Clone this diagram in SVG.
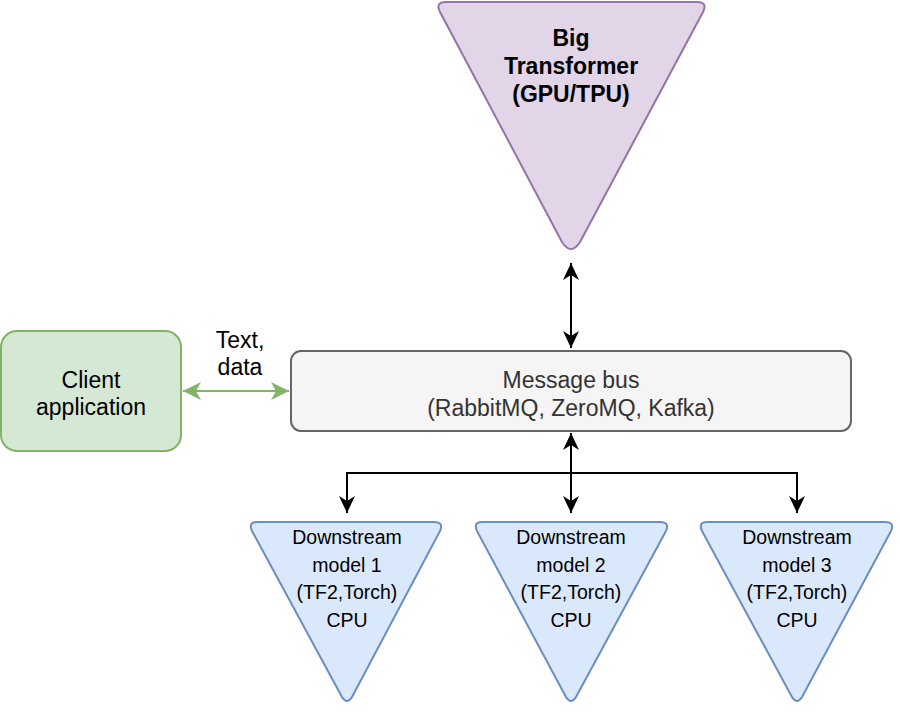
<svg xmlns="http://www.w3.org/2000/svg" width="900" height="722" viewBox="0 0 900 722">
<defs>
<style>
text{font-family:"Liberation Sans",Arial,Helvetica,sans-serif;text-anchor:middle;fill:#000}
.big{font-size:23px;font-weight:bold}
.bus{font-size:23px;fill:#333333}
.cl{font-size:23px}
.ds{font-size:19.5px}
.tri-ds{fill:#dae8fc;stroke:#6c8ebf;stroke-width:2;stroke-linejoin:round}
.edge{fill:none;stroke:#000;stroke-width:2}
</style>
<marker id="ah" markerUnits="userSpaceOnUse" viewBox="-19 -9 20 18" refX="0" refY="0" markerWidth="20" markerHeight="18" orient="auto-start-reverse">
<path d="M0,0 L-17,-8 L-12,0 L-17,8 Z" fill="#000"/>
</marker>
<marker id="ahg" markerUnits="userSpaceOnUse" viewBox="-20 -10 21 20" refX="0" refY="0" markerWidth="21" markerHeight="20" orient="auto-start-reverse">
<path d="M0,0 L-18,-9 L-13,0 L-18,9 Z" fill="#82b366"/>
</marker>
</defs>
<rect width="900" height="722" fill="#ffffff"/>
<g id="connectors">
<path class="edge" d="M571,263 V348" marker-start="url(#ah)" marker-end="url(#ah)"/>
<path class="edge" d="M571,433 V513" marker-start="url(#ah)" marker-end="url(#ah)"/>
<path class="edge" d="M571,473 H347 V513" marker-end="url(#ah)"/>
<path class="edge" d="M571,473 H797 V513" marker-end="url(#ah)"/>
<path d="M183,391 H289" fill="none" stroke="#82b366" stroke-width="2" marker-start="url(#ahg)" marker-end="url(#ahg)"/>
<text class="cl" x="240" y="348">Text,</text>
<text class="cl" x="240" y="375">data</text>
</g>
<g id="big-transformer">
<path d="M446,2 L697,2 Q708,2 703,12 L580,242 Q571,256 562,242 L440,12 Q435,2 446,2 Z" fill="#e1d5e7" stroke="#9673a6" stroke-width="2" stroke-linejoin="round"/>
<text class="big" x="571" y="46">Big</text>
<text class="big" x="571" y="74">Transformer</text>
<text class="big" x="571" y="102">(GPU/TPU)</text>
</g>
<g id="client">
<rect x="1" y="331" width="180" height="120" rx="16" fill="#d5e8d4" stroke="#82b366" stroke-width="2"/>
<text class="cl" x="91" y="388">Client</text>
<text class="cl" x="91" y="415">application</text>
</g>
<g id="message-bus">
<rect x="291" y="351" width="560" height="80" rx="10" fill="#f5f5f5" stroke="#666666" stroke-width="2"/>
<text class="bus" x="571" y="388">Message bus</text>
<text class="bus" x="571" y="416">(RabbitMQ, ZeroMQ, Kafka)</text>
</g>
<g id="downstream-1">
<path d="M257,522 L434,522 Q444,522 440,531 L352,697 Q347,705 342,697 L252,531 Q248,522 257,522 Z" class="tri-ds"/>
<text class="ds" x="347" y="544">Downstream</text>
<text class="ds" x="347" y="572">model 1</text>
<text class="ds" x="347" y="599">(TF2,Torch)</text>
<text class="ds" x="347" y="627">CPU</text>
</g>
<g id="downstream-2">
<path d="M482,522 L660,522 Q670,522 666,531 L576,697 Q571,705 566,697 L477,531 Q473,522 482,522 Z" class="tri-ds"/>
<text class="ds" x="571" y="544">Downstream</text>
<text class="ds" x="571" y="572">model 2</text>
<text class="ds" x="571" y="599">(TF2,Torch)</text>
<text class="ds" x="571" y="627">CPU</text>
</g>
<g id="downstream-3">
<path d="M707,522 L885,522 Q895,522 891,531 L802,697 Q797,705 792,697 L702,531 Q698,522 707,522 Z" class="tri-ds"/>
<text class="ds" x="797" y="544">Downstream</text>
<text class="ds" x="797" y="572">model 3</text>
<text class="ds" x="797" y="599">(TF2,Torch)</text>
<text class="ds" x="797" y="627">CPU</text>
</g>
</svg>
